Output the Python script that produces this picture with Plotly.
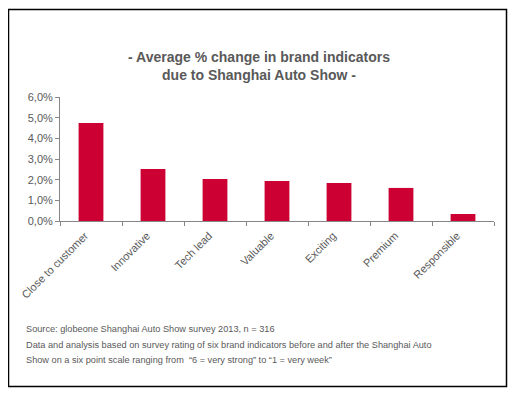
import plotly.graph_objects as go

categories = ["Close to customer", "Innovative", "Tech lead", "Valuable", "Exciting", "Premium", "Responsible"]
values = [0.0474, 0.0252, 0.0203, 0.0194, 0.0184, 0.0160, 0.0034]
y_ticks = [0, 0.01, 0.02, 0.03, 0.04, 0.05, 0.06]

title_text = "<b>- Average % change in brand indicators<br>due to Shanghai Auto Show -</b>"
footnote_lines = [
    "Source: globeone Shanghai Auto Show survey 2013, n = 316",
    "Data and analysis based on survey rating of six brand indicators before and after the Shanghai Auto",
    "Show on a six point scale ranging from  \u201c6 = very strong\u201d to \u201c1 = very week\u201d",
]

OFF = 8  # page body margin
W, H = 517 - OFF, 396 - OFF
L, R, T, B = 60 - OFF, 23, 97 - OFF, 175
pw, ph = W - L - R, H - T - B

def px_x(x):
    return (x - OFF - L) / pw

def px_y(y):
    return (H - B - (y - OFF)) / ph

gray = "#595959"
font_fam = "Liberation Sans, Arial, sans-serif"

fig = go.Figure(go.Bar(x=categories, y=values, marker_color="#CC0033", marker_line_width=0))

fig.update_layout(
    width=W, height=H, autosize=False,
    margin=dict(l=L, r=R, t=T, b=B, pad=0),
    paper_bgcolor="white", plot_bgcolor="white",
    separators=", ",
    bargap=0.6,
    showlegend=False,
    font=dict(family=font_fam, color=gray, size=11),
    title=dict(text=title_text, x=(259 - OFF) / W, xanchor="center", y=1 - (62 - OFF) / H, yanchor="middle",
               font=dict(family=font_fam, size=14, color=gray)),
)

fig.update_yaxes(range=[0, 0.06], tickvals=y_ticks, tickformat=".1%", showgrid=False, zeroline=False,
                 showline=True, linecolor="#868686", linewidth=1, ticks="outside", ticklen=4,
                 tickcolor="#868686", tickfont=dict(size=11, color=gray))
fig.update_xaxes(showgrid=False, showline=True, linecolor="#868686", linewidth=1, ticks="outside",
                 tickson="boundaries", ticklen=4, tickcolor="#868686", tickangle=-45,
                 ticklabelshift=-6, ticklabelstandoff=3,
                 tickfont=dict(size=11, color=gray))

fig.add_shape(type="rect", xref="paper", yref="paper",
              x0=px_x(8.5), x1=px_x(506.5), y0=px_y(386.5), y1=px_y(9.5),
              line=dict(color="black", width=1.5), fillcolor="rgba(0,0,0,0)", layer="below")

for i, line in enumerate(footnote_lines):
    fig.add_annotation(text=line, xref="paper", yref="paper", x=px_x(24), y=px_y(329 + 15.5 * i),
                       xanchor="left", yanchor="middle", align="left", showarrow=False,
                       font=dict(family=font_fam, size=9.2, color=gray))

fig.write_html("out.html")
